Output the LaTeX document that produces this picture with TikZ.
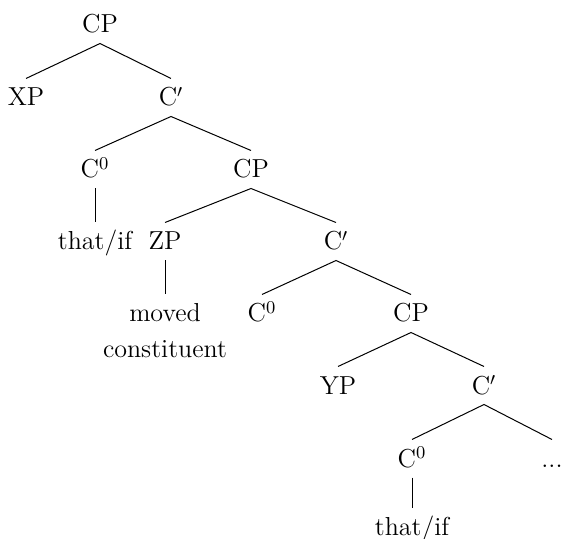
\documentclass[tikz,border=0pt]{standalone}
\usepackage{amsmath}
\usepackage{tikz}
\tikzstyle{cat}=[anchor=base,inner xsep=0pt,inner ysep=5pt,text height=8.5pt,text depth=0pt,font=\fontsize{13}{18}\selectfont]
\tikzset{every picture/.style={
    line width=0.5pt
  }
}

\begin{document}
\begin{tikzpicture}[x=0.5pt,y=-0.5pt]
            \useasboundingbox (0,0) rectangle (562,539);
            \node[cat] (cp1) at (100,33) {CP};
            \node[cat] (xp) at (26,106) {XP};
            \node[cat] (cbar1) at (171,106) {C$'$};
            \node[cat] (czero1) at (95,178) {C$^0$};
            \node[cat] (cp2) at (251,178) {CP};
            \node[cat] (that1) at (95,250) {that/if};
            \node[cat] (zp) at (165,250) {ZP};
            \node[cat] (cbar2) at (336,250) {C$'$};
            % two lines: box height covers both, base sits on the second line
            \node[cat,align=center,text height=26.5pt] (moved) at (165,358) {moved\\constituent};
            \node[cat] (czero2) at (262,322) {C$^0$};
            \node[cat] (cp3) at (411,322) {CP};
            \node[cat] (yp) at (338,394) {YP};
            \node[cat] (cbar3) at (484,394) {C$'$};
            \node[cat] (czero3) at (412,467) {C$^0$};
            \node[cat] (dots) at (552,467) {...};
            \node[cat] (that2) at (412,535) {that/if};
            \draw (xp.north) -- (cp1.south) -- (cbar1.north);
            \draw (czero1.north) -- (cbar1.south) -- (cp2.north);
            \draw (czero1.south) -- (that1.north);
            \draw (zp.north) -- (cp2.south) -- (cbar2.north);
            \draw (zp.south) -- (moved.north);
            \draw (czero2.north) -- (cbar2.south) -- (cp3.north);
            \draw (yp.north) -- (cp3.south) -- (cbar3.north);
            \draw (czero3.north) -- (cbar3.south) -- (dots.north);
            \draw (czero3.south) -- (that2.north);
          \end{tikzpicture}
\end{document}
